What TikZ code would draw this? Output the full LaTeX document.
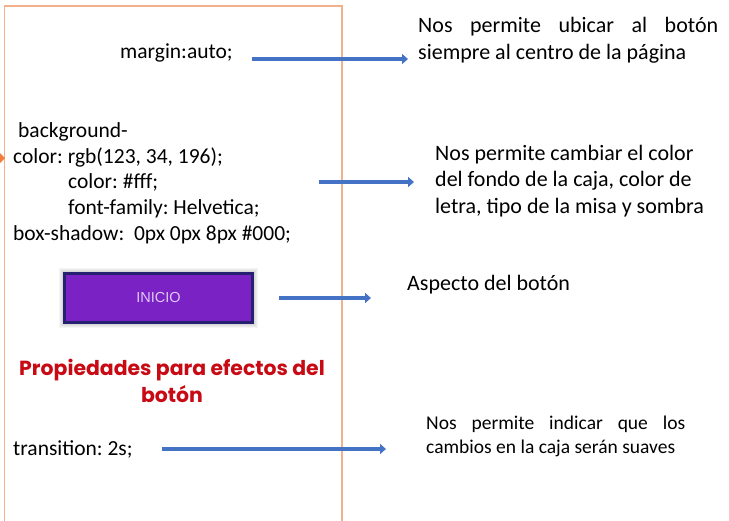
\documentclass[tikz,border=0pt]{standalone}
\usepackage{fontspec}
\setmainfont{Carlito}
\newfontfamily\titlefont{Poppins}
\newfontfamily\btnfont{Liberation Sans}
\usetikzlibrary{arrows.meta}
\frenchspacing
\definecolor{frameorange}{RGB}{242,176,140}
\definecolor{tiporange}{RGB}{245,125,60}
\definecolor{arrowblue}{RGB}{68,114,196}
\definecolor{btnpurple}{RGB}{123,34,196}
\definecolor{btnborder}{RGB}{38,32,112}
\definecolor{btntext}{RGB}{222,200,245}
\definecolor{titlered}{RGB}{200,10,20}
\tikzset{
  css/.style={anchor=base west,inner sep=0pt,font=\fontsize{21.5}{26}\selectfont},
  note/.style={anchor=base west,inner sep=0pt,align=left,font=\fontsize{22}{26.5}\selectfont},
  smallnote/.style={anchor=base west,inner sep=0pt,align=left,font=\fontsize{19.5}{23.5}\selectfont},
  bluearrow/.style={draw=arrowblue,line width=4.5pt,-{Triangle[length=6pt,width=10pt]}}
}
\begin{document}
\begin{tikzpicture}[x=1pt,y=-1pt]
              \clip (0,0) rectangle (729,520);
              \fill[white] (0,0) rectangle (729,520);
              \draw[frameorange,line width=1.5pt] (4.5,530) -- (4.5,6) -- (342,6) -- (342,530);
              \fill[tiporange] (-4,149) -- (5,158) -- (-4,167) -- cycle;
              \node[css](margin)at(120,58){margin:auto;};
              \node[css](bg1)at(18,137){background-};
              \node[css](bg2)at(13,163){color: rgb(123, 34, 196);};
              \node[css](bg3)at(68,188){color: \#fff;};
              \node[css](bg4)at(68,214){font-family: Helvetica;};
              \node[css](bg5)at(13,240){box-shadow:\ \ 0px 0px 8px \#000;};
              \foreach \s in {1,...,4}
                \draw[black,opacity=0.04,line width=\s*2pt] (63,272) rectangle (254,324);
              \node[draw=btnborder,line width=3pt,fill=btnpurple,minimum width=188pt,minimum height=49pt,inner sep=0pt,
                    text=btntext,font=\btnfont\fontsize{14.5}{16}\selectfont](btn)at(158.5,298){INICIO};
              \node[anchor=base,inner sep=0pt,align=center,text=titlered,
                    font=\titlefont\bfseries\fontsize{20.4}{27}\selectfont](title)at(172,402){Propiedades para efectos del\\botón};
              \node[css](trans)at(13,455){transition: 2s;};
              \node[note](n1)at(418,59){\makebox[300pt][s]{Nos permite ubicar al botón}\\siempre al centro de la página};
              \node[note](n2)at(435,213){Nos permite cambiar el color\\del fondo de la caja, color de\\letra, tipo de la misa y sombra};
              \node[note](n3)at(407,290){Aspecto del botón};
              \node[smallnote](n4)at(426,453){\makebox[259pt][s]{Nos permite indicar que los}\\cambios en la caja serán suaves};
              \coordinate (a1) at (252,59);
              \coordinate (b1) at (408,59);
              \coordinate (a2) at (319,182);
              \coordinate (b2) at (414,182);
              \coordinate (a3) at (279,298);
              \coordinate (b3) at (371,298);
              \coordinate (a4) at (162,449);
              \coordinate (b4) at (386,449);
              \draw[bluearrow](a1)--(b1);
              \draw[bluearrow](a2)--(b2);
              \draw[bluearrow](a3)--(b3);
              \draw[bluearrow](a4)--(b4);
            \end{tikzpicture}
\end{document}
